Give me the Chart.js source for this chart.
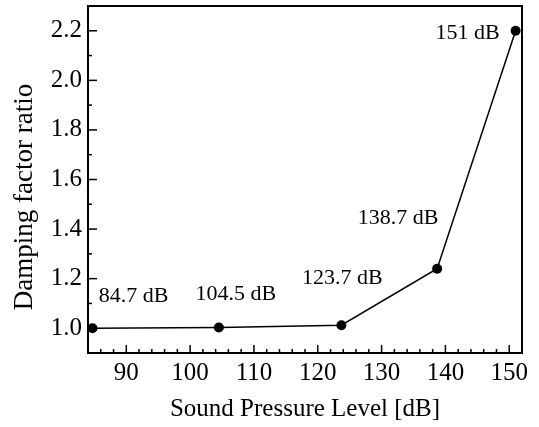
<!DOCTYPE html>
<html>
<head>
<meta charset="utf-8">
<script src="https://cdn.jsdelivr.net/npm/chart.js@4.4.1/dist/chart.umd.min.js"></script>
<style>
  html, body { margin: 0; padding: 0; background: #fff; }
  #wrap { width: 539px; height: 427px; }
</style>
</head>
<body>
<div id="wrap"><canvas id="myChart" width="539" height="427"></canvas></div>
<script>
// values
const spl = [84.7, 104.5, 123.7, 138.7, 151];
const dampingRatio = [1.0, 1.003, 1.012, 1.24, 2.2];
const pointLabels = ['84.7 dB', '104.5 dB', '123.7 dB', '138.7 dB', '151 dB'];
const xTicks = [90, 100, 110, 120, 130, 140, 150];
const yTicks = [1.0, 1.2, 1.4, 1.6, 1.8, 2.0, 2.2];
const xMinorStep = 2;
const yMinorStep = 0.1;

// where each point label sits, px from its point (centre of text)
const labelOffsets = [[41, -32], [17, -33], [1, -47], [-39, -51], [-48, 2]];

const serif = '"Liberation Serif", "Times New Roman", serif';

const frameAndTicks = {
  id: 'frameAndTicks',
  afterDatasetsDraw(chart) {
    const {ctx, chartArea: a, scales: {x, y}} = chart;
    ctx.save();
    ctx.strokeStyle = '#000';
    ctx.lineWidth = 1.5;

    // inward ticks on the bottom axis
    const n = Math.round((x.max - x.min) / xMinorStep);
    for (let i = 0; i <= n; i++) {
      const v = Math.ceil(x.min / xMinorStep) * xMinorStep + i * xMinorStep;
      if (v > x.max) break;
      const px = x.getPixelForValue(v);
      const len = xTicks.includes(v) ? 8 : 4;
      ctx.beginPath();
      ctx.moveTo(px, a.bottom);
      ctx.lineTo(px, a.bottom - len);
      ctx.stroke();
    }
    // inward ticks on the left axis
    const m = Math.round((y.max - y.min) / yMinorStep);
    for (let i = 0; i <= m; i++) {
      const v = +(y.min + i * yMinorStep).toFixed(2);
      const py = y.getPixelForValue(v);
      const major = yTicks.some(t => Math.abs(t - v) < 1e-6);
      ctx.beginPath();
      ctx.moveTo(a.left, py);
      ctx.lineTo(a.left + (major ? 9 : 4), py);
      ctx.stroke();
    }

    // frame
    ctx.lineWidth = 2;
    ctx.strokeRect(a.left, a.top, a.right - a.left, a.bottom - a.top);

    // point labels
    const meta = chart.getDatasetMeta(0);
    ctx.fillStyle = '#000';
    ctx.font = '22px ' + serif;
    ctx.textAlign = 'center';
    ctx.textBaseline = 'middle';
    meta.data.forEach((pt, i) => {
      ctx.fillText(pointLabels[i], pt.x + labelOffsets[i][0], pt.y + labelOffsets[i][1]);
    });

    // y axis title
    ctx.translate(25, 197);
    ctx.rotate(-Math.PI / 2);
    ctx.font = '27px ' + serif;
    ctx.fillText('Damping factor ratio', 0, 0);
    ctx.restore();
  }
};

const ctx = document.getElementById('myChart');
new Chart(ctx, {
  type: 'line',
  data: {
    datasets: [{
      label: 'Damping factor ratio',
      data: spl.map((v, i) => ({x: v, y: dampingRatio[i]})),
      borderColor: '#000',
      backgroundColor: '#000',
      borderWidth: 1.5,
      pointRadius: 5,
      pointBackgroundColor: '#000',
      pointBorderWidth: 0,
      tension: 0
    }]
  },
  options: {
    responsive: false,
    animation: false,
    events: [],
    layout: { padding: { top: 6, right: 17, left: 0, bottom: 0 } },
    plugins: { legend: { display: false }, tooltip: { enabled: false } },
    scales: {
      x: {
        type: 'linear',
        min: 84,
        max: 152,
        grid: { display: false, drawTicks: false },
        border: { display: false },
        afterBuildTicks: s => { s.ticks = xTicks.map(v => ({value: v})); },
        afterFit: s => { s.height = 74; s.paddingLeft = 0; s.paddingRight = 0; },
        ticks: {
          padding: 5,
          color: '#000',
          font: { family: serif, size: 25 },
          callback: v => v
        },
        title: {
          display: true,
          text: 'Sound Pressure Level [dB]',
          color: '#000',
          font: { family: serif, size: 25 },
          padding: { top: 0, bottom: 3 }
        }
      },
      y: {
        type: 'linear',
        min: 0.9,
        max: 2.3,
        grid: { display: false, drawTicks: false },
        border: { display: false },
        afterBuildTicks: s => { s.ticks = yTicks.map(v => ({value: v})); },
        afterFit: s => { s.width = 88; s.paddingTop = 0; s.paddingBottom = 0; },
        ticks: {
          padding: 6,
          color: '#000',
          font: { family: serif, size: 25 },
          callback: v => Number(v).toFixed(1)
        }
      }
    }
  },
  plugins: [frameAndTicks]
});
</script>
</body>
</html>
